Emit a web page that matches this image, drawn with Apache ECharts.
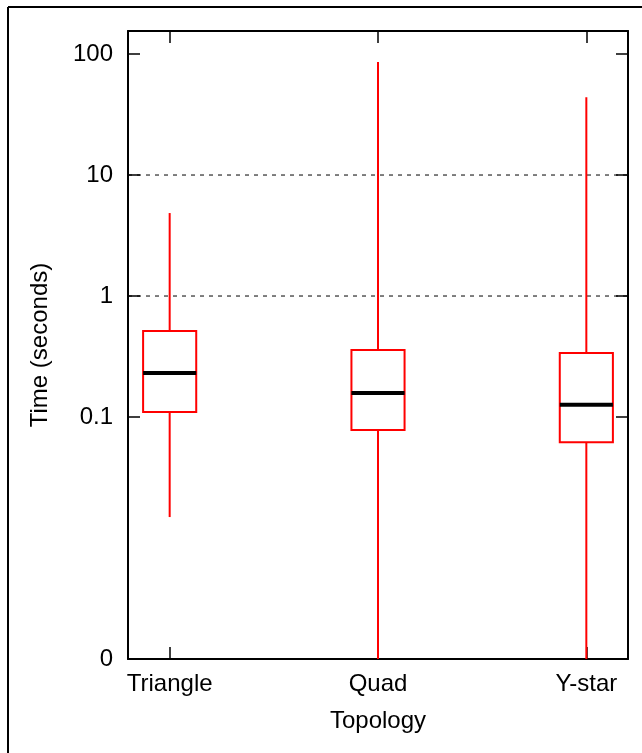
<!DOCTYPE html>
<html>
<head>
<meta charset="utf-8">
<script src="https://cdn.jsdelivr.net/npm/echarts@6/dist/echarts.min.js"></script>
<style>
html,body{margin:0;padding:0;background:#fff;}
#chart{width:642px;height:753px;}
</style>
</head>
<body>
<div id="chart"></div>
<script>
// ---- data ----
const categories = ['Triangle', 'Quad', 'Y-star'];
const categoryPositions = [1, 2, 3];
const whiskerLow = [0.0149, 0.001, 0.001];
const q1 = [0.110, 0.078, 0.062];
const median = [0.231, 0.158, 0.126];
const q3 = [0.514, 0.358, 0.338];
const whiskerHigh = [4.85, 86, 44];
const yTickValues = [0.001, 0.1, 1, 10, 100];
const yTickLabels = ['0', '0.1', '1', '10', '100'];
const gridValues = [10, 1];

const FONT = '"Liberation Sans", Helvetica, Arial, sans-serif';
const boxData = categoryPositions.map((x, i) => [x, whiskerLow[i], q1[i], median[i], q3[i], whiskerHigh[i]]);
const BOX_W = 0.255;

const chart = echarts.init(document.getElementById('chart'));

function yLabel(v) {
  for (let i = 0; i < yTickValues.length; i++) {
    if (Math.abs(Math.log10(v) - Math.log10(yTickValues[i])) < 1e-6) return yTickLabels[i];
  }
  return '';
}

const option = {
  backgroundColor: '#fff',
  animation: false,
  graphic: [
    { type: 'line', shape: { x1: 8, y1: 7, x2: 642, y2: 7 }, style: { stroke: '#000', lineWidth: 2 } },
    { type: 'line', shape: { x1: 8, y1: 7, x2: 8, y2: 753 }, style: { stroke: '#000', lineWidth: 2 } }
  ],
  grid: { left: 128, top: 31, right: 14, bottom: 94 },
  xAxis: [
    {
      type: 'value', min: 0.8, max: 3.2, position: 'bottom',
      name: 'Topology', nameLocation: 'middle', nameGap: 50,
      nameTextStyle: { fontFamily: FONT, fontSize: 24, color: '#000' },
      axisLine: { show: true, onZero: false, lineStyle: { color: '#000', width: 2 } },
      axisTick: { show: true, inside: true, length: 12, customValues: categoryPositions, lineStyle: { color: '#000', width: 1.5 } },
      axisLabel: { customValues: categoryPositions, margin: 13, fontFamily: FONT, fontSize: 24, color: '#000',
        formatter: v => categories[Math.round(v) - 1] || '' },
      splitLine: { show: false }
    },
    {
      type: 'value', min: 0.8, max: 3.2, position: 'top',
      axisLine: { show: true, onZero: false, lineStyle: { color: '#000', width: 2 } },
      axisTick: { show: true, inside: true, length: 12, customValues: categoryPositions, lineStyle: { color: '#000', width: 1.5 } },
      axisLabel: { show: false },
      splitLine: { show: false }
    }
  ],
  yAxis: [
    {
      type: 'log', logBase: 10, min: 0.001, max: 155, position: 'left',
      name: 'Time (seconds)', nameLocation: 'middle', nameGap: 76,
      nameTextStyle: { fontFamily: FONT, fontSize: 24, color: '#000' },
      axisLine: { show: true, onZero: false, lineStyle: { color: '#000', width: 2 } },
      axisTick: { show: true, inside: true, length: 12, customValues: yTickValues, lineStyle: { color: '#000', width: 1.5 } },
      axisLabel: { customValues: yTickValues, margin: 15, fontFamily: FONT, fontSize: 24, color: '#000', formatter: yLabel },
      minorTick: { show: false },
      splitLine: { show: false }
    },
    {
      type: 'log', logBase: 10, min: 0.001, max: 155, position: 'right',
      axisLine: { show: true, onZero: false, lineStyle: { color: '#000', width: 2 } },
      axisTick: { show: true, inside: true, length: 12, customValues: yTickValues, lineStyle: { color: '#000', width: 1.5 } },
      axisLabel: { show: false },
      splitLine: { show: false }
    }
  ],
  series: [
    {
      type: 'custom', silent: true, z: 1,
      data: gridValues.map(v => [1, v]),
      renderItem: function (params, api) {
        const cs = params.coordSys;
        const y = api.coord([1, api.value(1)])[1];
        return { type: 'line', shape: { x1: cs.x, y1: y, x2: cs.x + cs.width, y2: y },
          style: { stroke: '#000', lineWidth: 1, lineDash: [4, 5] } };
      }
    },
    {
      type: 'custom', silent: true, z: 2,
      data: boxData,
      renderItem: function (params, api) {
        const x = api.value(0);
        const pLow = api.coord([x, api.value(1)]);
        const pQ1 = api.coord([x, api.value(2)]);
        const pMed = api.coord([x, api.value(3)]);
        const pQ3 = api.coord([x, api.value(4)]);
        const pHigh = api.coord([x, api.value(5)]);
        const w = api.size([BOX_W, 0])[0];
        const cx = pQ1[0];
        const red = '#ff0000';
        return {
          type: 'group',
          children: [
            { type: 'line', shape: { x1: cx, y1: pHigh[1], x2: cx, y2: pQ3[1] }, style: { stroke: red, lineWidth: 2 } },
            { type: 'line', shape: { x1: cx, y1: pQ1[1], x2: cx, y2: pLow[1] }, style: { stroke: red, lineWidth: 2 } },
            { type: 'rect', shape: { x: cx - w / 2, y: pQ3[1], width: w, height: pQ1[1] - pQ3[1] },
              style: { fill: 'none', stroke: red, lineWidth: 2 } },
            { type: 'line', shape: { x1: cx - w / 2, y1: pMed[1], x2: cx + w / 2, y2: pMed[1] },
              style: { stroke: '#000', lineWidth: 4 } }
          ]
        };
      }
    }
  ]
};
chart.setOption(option);
</script>
</body>
</html>
